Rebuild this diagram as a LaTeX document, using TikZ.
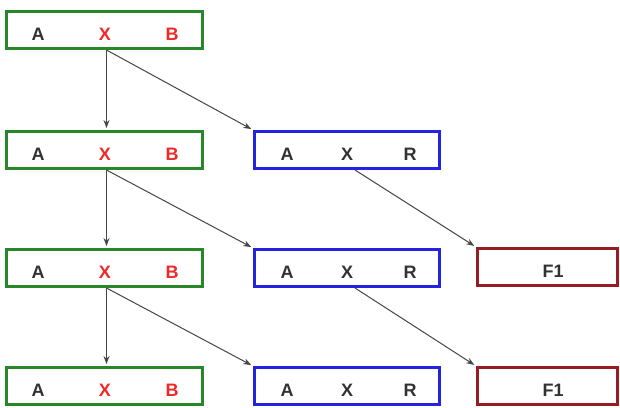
\documentclass[tikz,border=0pt]{standalone}
\usepackage{fontspec}
\setmainfont{Liberation Sans}
\usetikzlibrary{arrows.meta}
\definecolor{gbox}{RGB}{40,135,40}
\definecolor{bbox}{RGB}{35,35,225}
\definecolor{rbox}{RGB}{150,30,35}
\definecolor{txt}{RGB}{50,50,50}
\definecolor{rtxt}{RGB}{240,40,40}
\definecolor{conn}{RGB}{70,70,70}
\tikzset{
  box/.style={draw, line width=3pt, minimum height=37pt, inner sep=0pt, fill=white},
  greenbox/.style={box, draw=gbox, minimum width=196pt},
  bluebox/.style={box, draw=bbox, minimum width=185pt},
  redbox/.style={box, draw=rbox, minimum width=140pt},
  lbl/.style={font=\bfseries\fontsize{18}{18}\selectfont, text=txt, inner sep=0pt, anchor=center, yshift=-4pt},
  rlbl/.style={lbl, text=rtxt},
  conn/.style={draw=conn, line width=1pt, -{Stealth[length=8pt,width=6pt]}, shorten >=2pt}
}
\begin{document}
\begin{tikzpicture}[x=1pt,y=-1pt]
\useasboundingbox[fill=white] (0,0) rectangle (620,407);
% green boxes
\foreach \i/\y in {1/30,2/150,3/268,4/386}{
  \node[greenbox] (g\i) at (104.5,\y) {};
  \node[lbl] (ga\i) at (38,\y) {A};
  \node[rlbl] (gx\i) at (105,\y) {X};
  \node[rlbl] (gb\i) at (172,\y) {B};
}
% blue boxes
\foreach \i/\y in {2/150,3/268,4/386}{
  \node[bluebox] (b\i) at (347,\y) {};
  \node[lbl] (ba\i) at (287,\y) {A};
  \node[lbl] (bx\i) at (347,\y) {X};
  \node[lbl] (br\i) at (410,\y) {R};
}
% red boxes
\foreach \i/\y in {3/267,4/386}{
  \node[redbox] (r\i) at (547.5,\y) {};
  \node[lbl] (rf\i) at (553,\y) {F1};
}
% connectors
\draw[conn] ([xshift=2pt]g1.south) -- ([xshift=2pt]g2.north);
\draw[conn] ([xshift=2pt]g1.south) -- (b2.north west);
\draw[conn] ([xshift=2pt]g2.south) -- ([xshift=2pt]g3.north);
\draw[conn] ([xshift=2pt]g2.south) -- (b3.north west);
\draw[conn] ([xshift=2pt]g3.south) -- ([xshift=2pt]g4.north);
\draw[conn] ([xshift=2pt]g3.south) -- (b4.north west);
\draw[conn] ([xshift=8pt]b2.south) -- (r3.north west);
\draw[conn] ([xshift=8pt]b3.south) -- (r4.north west);
\end{tikzpicture}
\end{document}
